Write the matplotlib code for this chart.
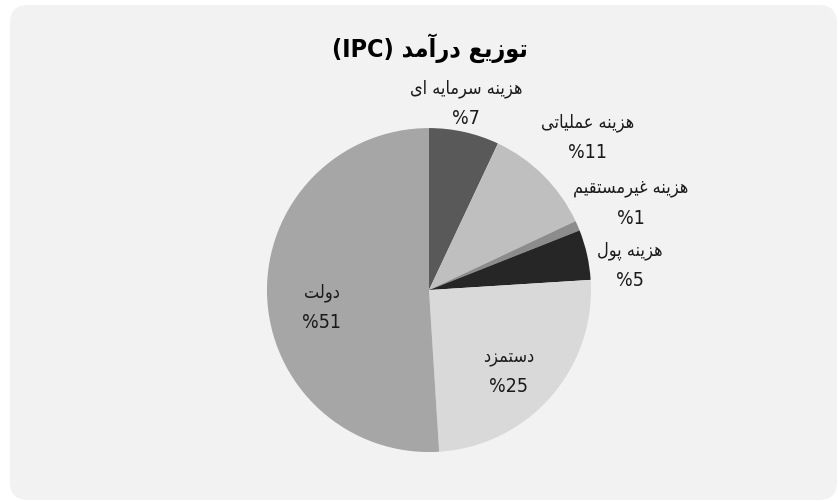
import matplotlib
matplotlib.use('Agg')
import matplotlib.pyplot as plt
from matplotlib.patches import FancyBboxPatch
import numpy as np

# داده ها
categories = ['هزینه سرمایه ای', 'هزینه عملیاتی', 'هزینه غیرمستقیم',
              'هزینه پول', 'دستمزد', 'دولت']
values = [7, 11, 1, 5, 25, 51]
title = 'توزیع درآمد'

colors = ['#595959', '#bfbfbf', '#8c8c8c', '#262626', '#d9d9d9', '#a6a6a6']

# matplotlib does no Arabic shaping: map letters to presentation forms by hand
forms = {
    'ا': ('\uFE8D', '\uFE8E', None, None),
    'آ': ('\uFE81', '\uFE82', None, None),
    'پ': ('\uFB56', '\uFB57', '\uFB58', '\uFB59'),
    'ت': ('\uFE95', '\uFE96', '\uFE97', '\uFE98'),
    'د': ('\uFEA9', '\uFEAA', None, None),
    'ر': ('\uFEAD', '\uFEAE', None, None),
    'ز': ('\uFEAF', '\uFEB0', None, None),
    'س': ('\uFEB1', '\uFEB2', '\uFEB3', '\uFEB4'),
    'ع': ('\uFEC9', '\uFECA', '\uFECB', '\uFECC'),
    'غ': ('\uFECD', '\uFECE', '\uFECF', '\uFED0'),
    'ق': ('\uFED5', '\uFED6', '\uFED7', '\uFED8'),
    'ل': ('\uFEDD', '\uFEDE', '\uFEDF', '\uFEE0'),
    'م': ('\uFEE1', '\uFEE2', '\uFEE3', '\uFEE4'),
    'ن': ('\uFEE5', '\uFEE6', '\uFEE7', '\uFEE8'),
    'ه': ('\uFEE9', '\uFEEA', '\uFEEB', '\uFEEC'),
    'و': ('\uFEED', '\uFEEE', None, None),
    'ی': ('\uFBFC', '\uFBFD', '\uFBFE', '\uFBFF'),
}


def fa(s):
    out = []
    for i, c in enumerate(s):
        if c not in forms:
            out.append(c)
            continue
        p = s[i - 1] if i > 0 else ''
        n = s[i + 1] if i + 1 < len(s) else ''
        jp = p in forms and forms[p][2] is not None
        jn = forms[c][2] is not None and n in forms
        iso, fin, ini, med = forms[c]
        if jp and jn:
            out.append(med)
        elif jp:
            out.append(fin)
        elif jn:
            out.append(ini)
        else:
            out.append(iso)
    return ''.join(reversed(out))


fam = ['DejaVu Sans']

fig = plt.figure(figsize=(8.38, 5.02), dpi=100)
fig.patch.set_facecolor('white')

# panel gris arrondi
bg = FancyBboxPatch((10, 1), 827, 495, boxstyle='round,pad=0,rounding_size=18',
                    transform=None, facecolor='#f2f2f2', edgecolor='none', zorder=-5)
fig.patches.append(bg)

ax = fig.add_axes([0.3186, 0.0975, 0.3866, 0.6454])
ax.set_zorder(2)
ax.set_facecolor('none')
wedges, _ = ax.pie(values, colors=colors, startangle=90, counterclock=False,
                   radius=1, wedgeprops=dict(linewidth=0))
ax.set_xlim(-1, 1)
ax.set_ylim(-1, 1)
ax.set_aspect('equal')
ax.axis('off')

# distance et décalage angulaire des étiquettes
label_dist = [1.18, 1.36, 1.36, 1.25, 0.70, 0.67]
label_shift = [1.5, -1, 0, -5.5, -4, 7]

for w, name, v, d, sh in zip(wedges, categories, values, label_dist, label_shift):
    ang = np.deg2rad((w.theta1 + w.theta2) / 2 + sh)
    x, y = d * np.cos(ang), d * np.sin(ang)
    ax.annotate(fa(name), (x, y), xytext=(0, 11), textcoords='offset points',
                ha='center', va='center', fontsize=13, family=fam,
                fontstretch='condensed', color='#1a1a1a', annotation_clip=False)
    ax.annotate(f'%{v}', (x, y), xytext=(0, -10.5), textcoords='offset points',
                ha='center', va='center', fontsize=14, family=fam,
                fontstretch='condensed', color='#1a1a1a', annotation_clip=False)

fig.text(430 / 838, 1 - 48 / 502, '(IPC) ' + fa(title), ha='center', va='center',
         fontsize=18, fontweight='bold', family=fam, fontstretch='condensed',
         color='black')

fig.savefig('out.png', dpi=100)
